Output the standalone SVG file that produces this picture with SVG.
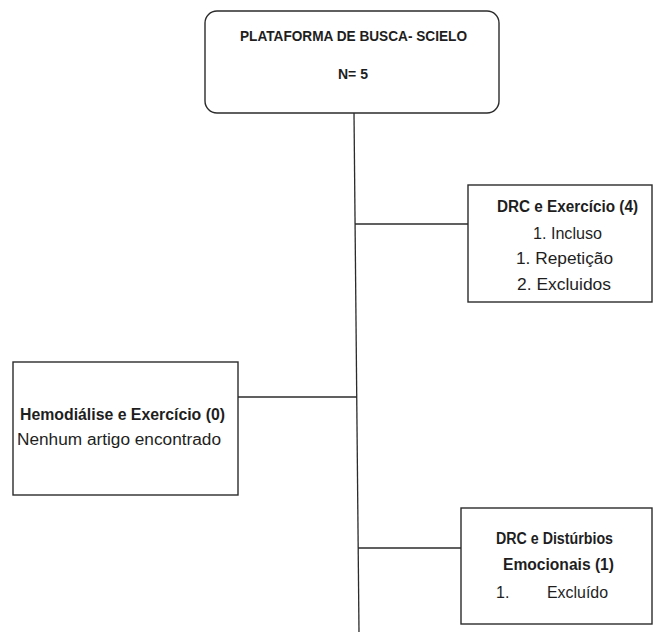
<svg xmlns="http://www.w3.org/2000/svg" width="654" height="632" viewBox="0 0 654 632">
<style>
.box{fill:#fff;stroke:#2b2b2b;stroke-width:1.4}
.conn{stroke:#2b2b2b;stroke-width:1.3;fill:none}
text{font-family:"Liberation Sans",Arial,sans-serif;font-size:16px;fill:#1e1e1e}
.t{font-size:15px}
.b{font-weight:bold}
</style>
<rect width="654" height="632" fill="#fff"/>
<g id="connectors">
<line class="conn" x1="354" y1="113" x2="359" y2="632"/>
<line class="conn" x1="355" y1="224" x2="468" y2="224"/>
<line class="conn" x1="238" y1="397" x2="357" y2="397"/>
<line class="conn" x1="358" y1="548" x2="461" y2="548"/>
</g>
<g id="plataforma">
<rect class="box" x="205" y="11" width="294" height="102" rx="12"/>
<text class="b t" x="240" y="41" textLength="227" lengthAdjust="spacingAndGlyphs">PLATAFORMA DE BUSCA- SCIELO</text>
<text class="b t" x="338" y="79" textLength="30" lengthAdjust="spacingAndGlyphs">N= 5</text>
</g>
<g id="drc-exercicio">
<rect class="box" x="468" y="185" width="184" height="117"/>
<text class="b" x="497" y="212" textLength="141" lengthAdjust="spacingAndGlyphs">DRC e Exercício (4)</text>
<text x="533" y="239" textLength="69" lengthAdjust="spacingAndGlyphs">1. Incluso</text>
<text x="516" y="264" textLength="97" lengthAdjust="spacingAndGlyphs">1. Repetição</text>
<text x="517" y="290" textLength="94" lengthAdjust="spacingAndGlyphs">2. Excluidos</text>
</g>
<g id="hemodialise-exercicio">
<rect class="box" x="13" y="362" width="225" height="133"/>
<text class="b" x="20" y="420" textLength="205" lengthAdjust="spacingAndGlyphs">Hemodiálise e Exercício (0)</text>
<text x="17" y="445" textLength="204" lengthAdjust="spacingAndGlyphs">Nenhum artigo encontrado</text>
</g>
<g id="drc-disturbios">
<rect class="box" x="461" y="508" width="191" height="116"/>
<text class="b" x="496" y="544" textLength="117" lengthAdjust="spacingAndGlyphs">DRC e Distúrbios</text>
<text class="b" x="503" y="570" textLength="111" lengthAdjust="spacingAndGlyphs">Emocionais (1)</text>
<text y="598"><tspan x="496">1.</tspan><tspan x="547" textLength="61" lengthAdjust="spacingAndGlyphs">Excluído</tspan></text>
</g>
</svg>
